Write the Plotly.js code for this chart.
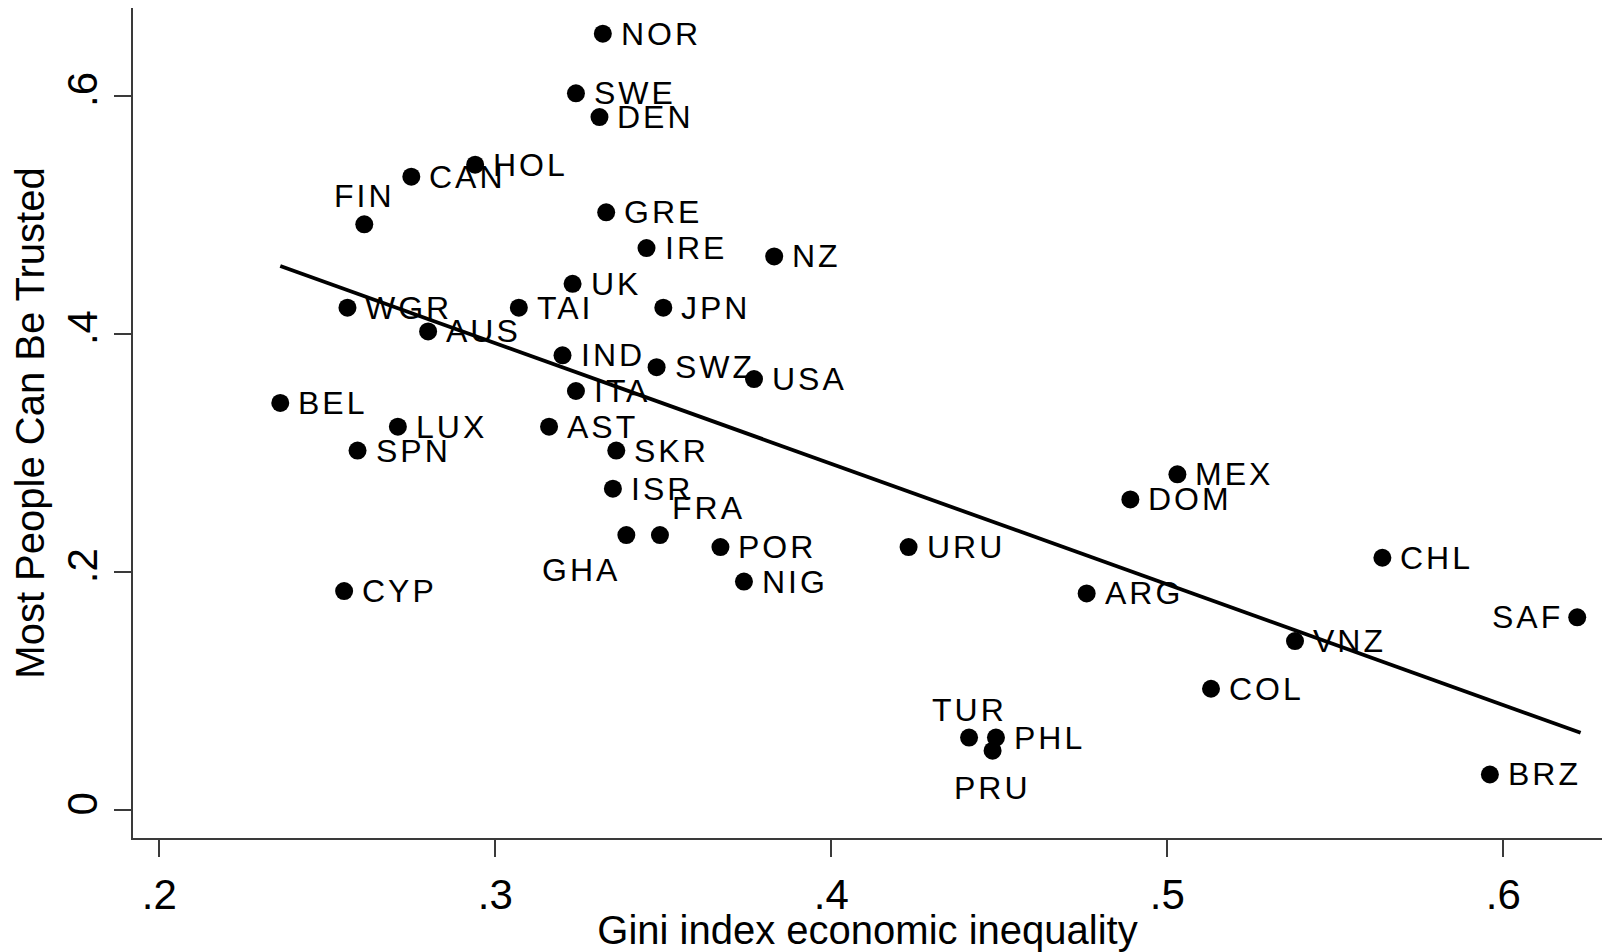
<!DOCTYPE html>
<html>
<head>
<meta charset="utf-8">
<script src="https://cdn.plot.ly/plotly-3.0.1.min.js"></script>
<style>
  html, body { margin: 0; padding: 0; background: #ffffff; }
  #chart { width: 1602px; height: 952px; }
  .annotation-text { letter-spacing: 3px; }
</style>
</head>
<body>
<div id="chart"></div>
<script>
// Country codes (marker labels)
const countries = ["NOR","SWE","DEN","HOL","CAN","FIN","GRE","IRE","NZ","UK",
  "WGR","TAI","JPN","AUS","IND","SWZ","USA","ITA","BEL","LUX",
  "AST","SPN","SKR","ISR","GHA","FRA","POR","NIG","CYP","URU",
  "MEX","DOM","CHL","ARG","SAF","VNZ","COL","TUR","PHL","PRU","BRZ"];

// Gini index economic inequality
const gini = [0.332,0.324,0.331,0.294,0.275,0.261,0.333,0.345,0.383,0.323,
  0.256,0.307,0.350,0.280,0.320,0.348,0.377,0.324,0.236,0.271,
  0.316,0.259,0.336,0.335,0.339,0.349,0.367,0.374,0.255,0.423,
  0.503,0.489,0.564,0.476,0.622,0.538,0.513,0.441,0.449,0.448,0.596];

// Most people can be trusted (share)
const trust = [0.652,0.602,0.582,0.542,0.532,0.492,0.502,0.472,0.465,0.442,
  0.422,0.422,0.422,0.402,0.382,0.372,0.362,0.352,0.342,0.322,
  0.322,0.302,0.302,0.270,0.231,0.231,0.221,0.192,0.184,0.221,
  0.282,0.261,0.212,0.182,0.162,0.142,0.102,0.061,0.061,0.050,0.030];

// Label placement relative to the marker (r=right, l=left, t=top, b=bottom, bl=bottom-left, tr=top-right)
const labelPos = ["r","r","r","r","r","t","r","r","r","r",
  "r","r","r","r","r","r","r","r","r","r",
  "r","r","r","r","bl","tr","r","r","r","r",
  "r","r","r","r","l","r","r","t","r","b","r"];

// Fitted regression line end points
const fitX = [0.236, 0.623];
const fitY = [0.457, 0.065];

// Tick labels
const xTickVals = [0.2, 0.3, 0.4, 0.5, 0.6];
const xTickText = [".2", ".3", ".4", ".5", ".6"];
const yTickVals = [0, 0.2, 0.4, 0.6];
const yTickText = ["0", ".2", ".4", ".6"];

const FONT = "Liberation Sans, Arial, Helvetica, sans-serif";
const AXC = "#3a3a3a";

const posStyle = {
  r:  {xanchor: "left",   yanchor: "middle", xshift: 16,  yshift: 0},
  l:  {xanchor: "right",  yanchor: "middle", xshift: -12, yshift: 0},
  t:  {xanchor: "center", yanchor: "middle", xshift: 0,   yshift: 28},
  b:  {xanchor: "center", yanchor: "middle", xshift: 0,   yshift: -37},
  bl: {xanchor: "right",  yanchor: "middle", xshift: -4,  yshift: -35},
  tr: {xanchor: "left",   yanchor: "middle", xshift: 10,  yshift: 27}
};

const annotations = countries.map((c, i) => Object.assign({
  x: gini[i], y: trust[i], xref: "x", yref: "y",
  text: c, showarrow: false,
  font: {family: FONT, size: 32, color: "#000000"}
}, posStyle[labelPos[i]]));

const traces = [
  {
    type: "scatter", mode: "lines",
    x: fitX, y: fitY,
    line: {color: "#000000", width: 3.8},
    hoverinfo: "skip", showlegend: false
  },
  {
    type: "scatter", mode: "markers",
    x: gini, y: trust, text: countries,
    marker: {color: "#000000", size: 18, line: {width: 0}},
    hovertemplate: "%{text}<br>Gini %{x}<br>Trust %{y}<extra></extra>",
    showlegend: false
  }
];

const layout = {
  width: 1602, height: 952,
  margin: {l: 133, r: 0, t: 8, b: 114, pad: 0},
  paper_bgcolor: "#ffffff", plot_bgcolor: "#ffffff",
  font: {family: FONT, color: "#000000"},
  showlegend: false,
  xaxis: {
    range: [0.19217, 0.62937],
    showline: true, linecolor: AXC, linewidth: 1.5,
    showgrid: false, zeroline: false, mirror: false,
    ticks: "outside", ticklen: 17, tickwidth: 1.5, tickcolor: AXC,
    tickmode: "array", tickvals: xTickVals, ticktext: xTickText,
    tickfont: {family: FONT, size: 42, color: "#000000"},
    ticklabelstandoff: 2,
    title: {text: "Gini index economic inequality", font: {family: FONT, size: 40, color: "#000000"}, standoff: 2},
    automargin: false
  },
  yaxis: {
    range: [-0.02333, 0.6736],
    showline: true, linecolor: AXC, linewidth: 1.5,
    showgrid: false, zeroline: false, mirror: false,
    ticks: "outside", ticklen: 17, tickwidth: 1.5, tickcolor: AXC,
    tickmode: "array", tickvals: yTickVals, ticktext: yTickText,
    tickangle: -90,
    tickfont: {family: FONT, size: 42, color: "#000000"},
    title: {text: "Most People Can Be Trusted", font: {family: FONT, size: 40, color: "#000000"}, standoff: 2},
    automargin: false
  },
  annotations: annotations
};

Plotly.newPlot("chart", traces, layout, {displayModeBar: false, staticPlot: false});
</script>
</body>
</html>
